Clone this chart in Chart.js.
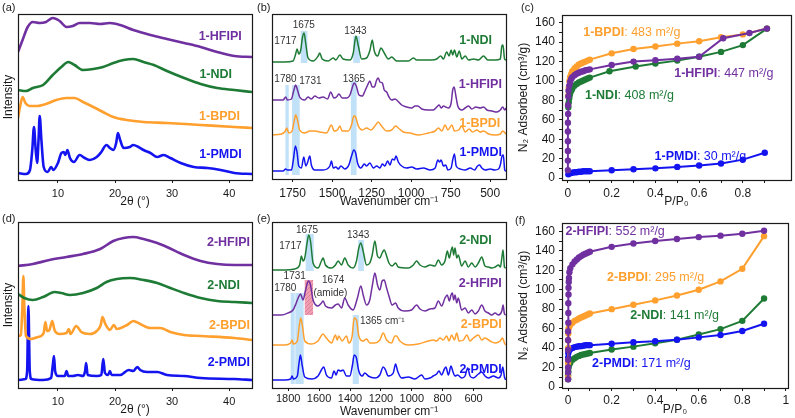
<!DOCTYPE html>
<html><head><meta charset="utf-8">
<script src="https://cdn.jsdelivr.net/npm/chart.js@4.4.1/dist/chart.umd.min.js"></script>
<style>
html,body{margin:0;padding:0;background:#fff}
#root{position:relative;width:795px;height:418px;overflow:hidden;background:#fff}
canvas{position:absolute}
.pl{position:absolute;font:11px "Liberation Sans",Arial,sans-serif;color:#222;line-height:11px;white-space:nowrap}
</style></head><body>
<div id="root">
<canvas id="cA" width="265" height="208" style="left:0;top:0"></canvas>
<canvas id="cB" width="250" height="208" style="left:265px;top:0"></canvas>
<canvas id="cC" width="280" height="208" style="left:515px;top:0"></canvas>
<canvas id="cD" width="265" height="210" style="left:0;top:208px"></canvas>
<canvas id="cE" width="250" height="210" style="left:265px;top:208px"></canvas>
<canvas id="cF" width="280" height="210" style="left:515px;top:208px"></canvas>
<div class="pl" style="left:2px;top:2px">(a)</div>
<div class="pl" style="left:257px;top:2px">(b)</div>
<div class="pl" style="left:521px;top:2px">(c)</div>
<div class="pl" style="left:2px;top:213px">(d)</div>
<div class="pl" style="left:257px;top:213px">(e)</div>
<div class="pl" style="left:515px;top:215px">(f)</div>
</div>
<script>
// ---------------- DATA ----------------
// (a) PXRD, 2theta (deg) vs offset intensity
const a_HFIPI=[[3,128],[3.8,140],[4.7,153],[5.6,158],[6.8,157],[7.9,158],[9.1,162],[10.3,159],[11.5,153],[12.6,154],[13.8,157],[15.6,157],[17.4,156],[19.1,157],[20.9,155],[23.2,150],[26.2,145],[29.1,141],[32.1,137],[35,133],[37.9,128],[40.9,124],[44,123]];
const a_NDI=[[3,90],[4.4,89],[5.6,92],[7.4,95],[9.1,105],[10.6,113],[11.8,118],[12.9,115],[14.4,110],[16.2,111],[17.9,113],[19.7,117],[21.5,120],[23.2,121],[25,118],[26.8,115],[29.1,109],[32.1,102],[35,96],[37.9,92],[40.9,90],[44,88]];
const a_BPDI=[[3,62],[3.35,73],[3.8,83],[4.3,77],[5,74],[6.2,74],[7.9,76],[9.7,80],[11.5,82],[12.9,82],[14.4,78],[16.2,73],[17.9,68],[19.7,63],[22,60],[25,58],[29.1,57],[35,55],[40.9,53],[44,52]];
const a_PMDI=[[3,7],[4.4,6],[5.1,10],[5.5,30],[5.8,53],[6.1,30],[6.35,17],[6.6,40],[6.8,64],[7.1,40],[7.5,13],[8.2,8],[8.8,13],[9.2,10],[10,17],[10.6,27],[11,28],[11.3,25],[11.65,30],[12.1,22],[12.8,18],[13.8,25],[14.7,22],[15.6,20],[16.8,23],[17.6,28],[18.5,35],[19.1,32],[19.7,30],[20.2,37],[20.5,47],[20.9,40],[21.5,32],[22.6,33],[23.2,35],[24.1,33],[25,30],[26.2,27],[27.4,23],[28.5,25],[29.7,22],[31.5,17],[33.8,13],[36.2,12],[38.5,10],[40.9,7],[44,6]];
// (d) PXRD
const d_HFIPI=[[3,122],[5.6,124],[8.5,128],[11.5,131],[14.4,134],[17.4,139],[19.7,147],[21.5,150],[23.2,151],[25,149],[27.4,145],[29.1,141],[32.1,133],[35,127],[37.9,124],[40.9,123],[44,123]];
const d_NDI=[[3,94],[4.1,90],[5.6,88],[7.4,91],[9.4,96],[10.6,95],[12.1,93],[14.4,95],[16.8,100],[18.5,106],[20.3,109],[22.6,110],[25,108],[27.4,105],[29.7,100],[32.1,95],[35,90],[37.9,87],[40.9,86],[44,85]];
const d_BPDI=[[3,52],[3.5,53],[3.76,80],[3.94,112],[4.12,80],[4.4,52],[5.3,49],[6.5,51],[7.5,55],[7.8,66],[8.1,57],[8.5,58],[9,67],[9.4,58],[10.3,54],[11.5,55],[11.9,59],[12.2,54],[13.2,62],[14.1,56],[15.6,54],[16.8,57],[17.5,63],[17.8,71],[18.3,64],[19.1,58],[19.8,63],[20.3,59],[22.1,63],[23.2,67],[24.4,64],[26.2,60],[27.9,60],[29.7,56],[32.1,53],[35,52],[40.9,50],[44,48]];
const d_PMDI=[[3,8],[4.3,9],[4.6,17],[4.82,82],[5.06,17],[5.35,9],[7.35,8],[8.8,10],[9.1,23],[9.3,32],[9.5,17],[10,12],[11.2,12],[11.5,17],[11.8,12],[12.6,12],[13.5,13],[14.4,12],[14.76,17],[14.94,25],[15.2,13],[16.8,12],[17.6,13],[17.94,29],[18.24,15],[18.8,13],[19.1,17],[19.4,13],[20.9,13],[22.4,18],[23.2,17],[23.9,21],[24.4,18],[25.6,16],[27.4,16],[29.1,13],[32.1,12],[35,10],[40.9,9],[44,8]];
// (b) FTIR, wavenumber (cm-1) vs offset transmittance
const b_NDI=[[1880,117],[1800,117],[1747,118],[1732,124],[1721,130],[1711,125],[1698,129],[1688,141],[1677,146],[1667,136],[1652,121],[1620,118],[1588,123],[1578,126],[1563,120],[1525,118],[1493,121],[1476,119],[1451,124],[1430,120],[1387,119],[1366,126],[1349,143],[1334,133],[1313,120],[1282,121],[1260,129],[1246,139],[1233,128],[1212,123],[1191,131],[1170,126],[1144,120],[1123,122],[1092,118],[1017,118],[986,121],[965,119],[912,119],[870,119],[838,120],[813,123],[796,120],[775,127],[760,123],[747,129],[737,124],[726,129],[711,122],[696,128],[679,120],[658,123],[637,119],[605,120],[574,119],[542,123],[515,119],[468,119],[436,120],[426,133],[419,134],[409,120],[400,119]];
const b_HFIPI=[[1880,79],[1810,79],[1793,82],[1783,79],[1757,80],[1743,88],[1730,94],[1719,89],[1705,82],[1673,79],[1652,82],[1631,80],[1609,83],[1584,81],[1557,82],[1529,80],[1508,87],[1489,81],[1472,82],[1457,85],[1436,81],[1409,81],[1387,84],[1373,91],[1360,96],[1347,93],[1330,84],[1309,83],[1292,88],[1275,94],[1261,98],[1246,92],[1233,92],[1218,99],[1208,101],[1197,97],[1182,96],[1170,89],[1155,87],[1140,82],[1123,79],[1102,80],[1085,78],[1060,74],[1028,72],[996,71],[975,73],[958,73],[933,70],[891,69],[859,69],[838,72],[823,74],[810,71],[795,73],[781,72],[764,71],[747,76],[737,89],[728,92],[717,83],[705,73],[679,69],[658,71],[637,73],[616,70],[591,72],[563,71],[542,72],[521,69],[489,68],[457,67],[436,69],[421,72],[408,69],[400,71]];
const b_BPDI=[[1880,44],[1821,45],[1795,48],[1787,51],[1774,46],[1753,48],[1740,58],[1730,64],[1719,59],[1705,49],[1673,46],[1641,48],[1609,48],[1578,47],[1535,46],[1504,54],[1487,48],[1466,49],[1451,53],[1436,48],[1398,48],[1377,54],[1362,63],[1351,62],[1334,53],[1309,49],[1282,51],[1254,49],[1229,53],[1208,57],[1187,53],[1155,48],[1123,49],[1098,53],[1081,51],[1049,47],[1007,46],[954,44],[891,46],[848,48],[827,51],[806,48],[785,54],[768,49],[742,54],[726,48],[700,49],[679,53],[658,47],[633,50],[612,47],[584,49],[563,47],[542,48],[510,45],[468,44],[436,45],[421,48],[400,45]];
const b_PMDI=[[1880,8],[1810,8],[1793,10],[1783,9],[1757,9],[1745,19],[1732,33],[1721,26],[1711,13],[1694,11],[1679,22],[1666,13],[1656,16],[1641,23],[1631,14],[1609,9],[1557,9],[1514,13],[1504,18],[1493,11],[1476,12],[1461,10],[1444,13],[1419,10],[1394,14],[1377,23],[1362,29],[1351,26],[1339,16],[1318,11],[1296,15],[1282,13],[1261,16],[1239,11],[1218,13],[1197,11],[1182,15],[1166,13],[1149,18],[1134,14],[1119,20],[1106,19],[1096,23],[1081,17],[1060,13],[1028,11],[996,12],[965,10],[922,11],[880,9],[848,11],[831,19],[821,17],[810,19],[796,13],[781,14],[768,9],[747,11],[737,19],[726,25],[715,13],[690,10],[658,9],[626,11],[599,9],[580,13],[567,14],[553,11],[531,9],[500,10],[472,9],[447,10],[436,14],[425,23],[417,24],[408,9],[400,8]];
// (e) FTIR
const e_NDI=[[1905,118],[1823,118],[1758,119],[1726,123],[1715,132],[1704,127],[1693,130],[1678,145],[1667,153],[1656,147],[1639,125],[1607,120],[1585,127],[1574,130],[1559,123],[1520,120],[1494,123],[1477,127],[1455,123],[1434,130],[1412,123],[1380,120],[1358,127],[1343,140],[1330,145],[1315,137],[1293,123],[1272,125],[1256,133],[1239,147],[1222,132],[1207,130],[1192,135],[1179,138],[1163,132],[1148,125],[1127,122],[1105,125],[1088,121],[1023,120],[990,123],[969,127],[947,123],[915,121],[882,123],[850,122],[828,128],[807,123],[785,127],[770,137],[757,130],[746,137],[737,141],[729,133],[720,140],[709,130],[699,133],[677,122],[655,127],[634,121],[612,125],[590,121],[569,125],[547,131],[526,122],[504,121],[482,120],[461,121],[439,123],[426,121],[417,130],[409,138],[400,121],[392,120]];
const e_HFIPI=[[1905,73],[1845,73],[1802,75],[1769,78],[1748,85],[1733,91],[1720,94],[1704,88],[1689,97],[1676,105],[1667,107],[1656,103],[1639,88],[1607,82],[1585,85],[1574,87],[1559,82],[1520,80],[1494,83],[1477,84],[1455,80],[1434,90],[1412,83],[1380,78],[1352,90],[1330,102],[1313,92],[1293,83],[1272,88],[1256,102],[1239,115],[1222,103],[1207,98],[1192,107],[1179,108],[1163,100],[1148,92],[1127,83],[1105,85],[1088,80],[1045,77],[1001,78],[969,83],[947,79],[915,77],[882,79],[850,80],[828,87],[807,82],[785,90],[770,93],[757,87],[746,93],[737,95],[729,88],[720,93],[709,85],[699,90],[677,78],[655,80],[634,75],[612,78],[590,74],[569,77],[547,83],[526,77],[504,75],[482,73],[461,75],[439,73],[417,77],[409,83],[400,74],[392,73]];
const e_BPDI=[[1905,43],[1823,43],[1784,45],[1775,48],[1767,44],[1741,47],[1730,60],[1719,70],[1708,62],[1693,47],[1650,44],[1607,47],[1574,54],[1553,50],[1520,45],[1494,53],[1483,48],[1473,52],[1451,47],[1423,52],[1408,45],[1386,52],[1373,70],[1358,68],[1343,52],[1315,47],[1293,49],[1272,45],[1239,45],[1207,48],[1185,55],[1163,48],[1131,45],[1109,52],[1099,52],[1077,47],[1023,43],[958,44],[893,47],[861,48],[839,47],[818,50],[796,48],[774,52],[759,47],[742,53],[724,48],[709,55],[694,47],[666,48],[644,53],[623,47],[601,50],[569,53],[547,48],[526,50],[493,47],[461,45],[428,47],[413,50],[400,45],[392,43]];
const e_PMDI=[[1905,8],[1823,8],[1784,9],[1775,12],[1767,9],[1741,12],[1730,25],[1721,33],[1710,23],[1693,11],[1650,9],[1607,12],[1585,18],[1570,21],[1553,13],[1520,10],[1503,17],[1490,13],[1477,18],[1460,17],[1445,18],[1423,12],[1401,12],[1384,23],[1373,33],[1360,31],[1343,17],[1321,12],[1304,15],[1282,12],[1239,10],[1207,13],[1185,21],[1170,18],[1153,12],[1120,15],[1105,24],[1092,17],[1066,10],[1023,11],[980,9],[936,13],[915,9],[882,10],[861,12],[839,14],[824,17],[807,13],[789,19],[779,21],[763,13],[746,22],[735,17],[720,12],[703,13],[677,10],[655,12],[638,20],[623,12],[601,10],[569,14],[547,16],[526,12],[504,10],[472,12],[439,10],[422,13],[411,21],[400,11],[392,8]];
// (c) N2 isotherms, P/P0 vs cm3/g
const c_HFIPI=[[0,8],[0,18],[0,28],[0,38],[0,48],[0,57],[0.001,66],[0.001,75],[0.002,84],[0.003,90],[0.006,95],[0.01,99],[0.015,102],[0.02,104],[0.03,106],[0.04,107.5],[0.05,108.5],[0.06,109.5],[0.07,110],[0.08,111],[0.09,111.5],[0.1,112],[0.2,116.5],[0.3,120],[0.4,121.5],[0.5,123],[0.6,125],[0.71,144],[0.83,149.5],[0.91,154]];
const c_BPDI=[[0.001,75],[0.002,85],[0.004,93],[0.007,100],[0.01,104],[0.015,107],[0.02,110],[0.03,113],[0.04,115],[0.05,117],[0.06,118],[0.07,119],[0.08,120],[0.09,121],[0.1,122],[0.2,128.5],[0.3,133],[0.4,135.5],[0.5,138.5],[0.6,141],[0.7,145],[0.8,148],[0.91,154]];
const c_NDI=[[0.002,73],[0.004,78],[0.006,82],[0.008,85],[0.01,87],[0.015,90],[0.02,92],[0.03,95],[0.04,97],[0.05,98.5],[0.06,99.5],[0.07,100.5],[0.08,101.5],[0.09,102.5],[0.1,103.5],[0.19,110],[0.31,115],[0.4,118],[0.5,121],[0.6,125],[0.7,130],[0.8,137],[0.91,154]];
const c_PMDI=[[0.002,4],[0.01,5],[0.02,5.5],[0.03,6],[0.04,6],[0.05,6.5],[0.06,6.5],[0.07,7],[0.08,7],[0.09,7],[0.1,7],[0.2,8],[0.3,9],[0.4,10],[0.5,11.5],[0.6,13],[0.7,15],[0.8,19],[0.9,26]];
// (f) N2 isotherms
const f_HFIPI=[[0,8],[0,15],[0,20],[0,28],[0,38],[0,48],[0,57],[0.001,66],[0.001,76],[0.001,86],[0.002,95],[0.002,102],[0.003,108],[0.004,112],[0.006,118],[0.01,122],[0.02,126],[0.03,129],[0.04,131],[0.05,133],[0.06,134.5],[0.07,136],[0.08,137],[0.09,138],[0.1,139],[0.2,144],[0.3,147.5],[0.4,150],[0.5,152],[0.6,154],[0.7,155.5],[0.8,157.5],[0.9,160.5]];
const f_BPDI=[[0,10],[0,25],[0,40],[0,48],[0.001,55],[0.002,60],[0.005,62],[0.01,64],[0.02,66],[0.03,68],[0.04,69],[0.05,70.5],[0.06,71.5],[0.07,72.5],[0.08,73.5],[0.09,74.5],[0.1,75.5],[0.2,80],[0.3,84.5],[0.4,89],[0.5,94],[0.6,100],[0.7,108.5],[0.8,121.5],[0.9,155]];
const f_NDI=[[0,8],[0,12],[0.001,16],[0.002,20],[0.005,23],[0.01,25],[0.02,28],[0.03,29.5],[0.04,31],[0.05,32],[0.06,33],[0.07,33.5],[0.08,34],[0.09,34.5],[0.1,35],[0.2,38.5],[0.3,41.5],[0.4,45],[0.5,48.5],[0.6,54],[0.7,59.5],[0.8,68],[0.9,91]];
const f_PMDI=[[0,30],[0.001,35],[0.002,37],[0.005,38],[0.01,39],[0.02,40],[0.03,41],[0.04,41.5],[0.05,42],[0.06,42],[0.07,42.5],[0.08,43],[0.09,43],[0.1,43],[0.2,44.5],[0.3,46],[0.4,47],[0.5,48.5],[0.6,51],[0.7,53.5],[0.8,57.5],[0.9,65]];
// tick values
const xrdTicks=[10,20,30,40];
const irTicksB=[1750,1500,1250,1000,750,500];
const irTicksE=[1800,1600,1400,1200,1000,800,600];
const isoXTicksC=[0,0.1,0.2,0.3,0.4,0.5,0.6,0.7,0.8,0.9];
const isoXTicksF=[0,0.1,0.2,0.3,0.4,0.5,0.6,0.7,0.8,0.9,1];
const isoXLabels=[0,0.2,0.4,0.6,0.8,1];
const isoXLabelsC=[0,0.2,0.4,0.6,0.8];
const isoYTicks=[0,10,20,30,40,50,60,70,80,90,100,110,120,130,140,150,160];
const isoYLabels=[0,20,40,60,80,100,120,140,160];

// ---------------- STYLE / DRAW ----------------
Chart.defaults.font.family='"Liberation Sans", Arial, Helvetica, sans-serif';
Chart.defaults.color='#1a1a1a';
const COL={p:'#7030A0',g:'#1E7B35',o:'#FF9F2E',b:'#1414F0'};
const FB='bold 12.5px "Liberation Sans", Arial, sans-serif';
const FN='12.5px "Liberation Sans", Arial, sans-serif';
const FS='10px "Liberation Sans", Arial, sans-serif';
const BAND='rgba(140,200,240,0.55)';

function toXY(a){return a.map(([x,y])=>({x,y}));}
function spec(d,c,w){return {data:toXY(d),borderColor:c,borderWidth:w,pointRadius:0,fill:false,cubicInterpolationMode:'monotone'};}
function iso(d,c){return {data:toXY(d),borderColor:c,backgroundColor:c,borderWidth:2,pointRadius:3.2,pointBorderWidth:0,pointBackgroundColor:c,tension:0,fill:false};}

function hatchPattern(ctx){
  const c=document.createElement('canvas');c.width=4;c.height=4;const g=c.getContext('2d');
  g.fillStyle='rgba(236,150,170,0.9)';g.fillRect(0,0,4,4);
  g.strokeStyle='rgba(215,100,135,0.6)';g.lineWidth=1;g.beginPath();g.moveTo(0,4);g.lineTo(4,0);g.stroke();
  return ctx.createPattern(c,'repeat');
}
function overlay(bands,texts){return {id:'ov',
  beforeDatasetsDraw(ch){
    const {ctx,scales:{x,y}}=ch;ctx.save();
    bands.forEach(b=>{
      const x0=x.getPixelForValue(b.x0),x1=x.getPixelForValue(b.x1),y0=y.getPixelForValue(b.y0),y1=y.getPixelForValue(b.y1);
      ctx.fillStyle=b.hatch?hatchPattern(ctx):BAND;
      ctx.fillRect(Math.min(x0,x1),Math.min(y0,y1),Math.abs(x1-x0),Math.abs(y1-y0));
    });
    ctx.restore();
  },
  afterDatasetsDraw(ch){
    const {ctx,chartArea:a,scales:{x,y}}=ch;ctx.save();
    texts.forEach(t=>{
      const px=x.getPixelForValue(t.x),py=y.getPixelForValue(t.y);
      ctx.textBaseline='middle';ctx.textAlign='left';
      const ws=t.parts.map(p=>{ctx.font=p[1];return ctx.measureText(p[0]).width;});
      const tot=ws.reduce((s,w)=>s+w,0);
      let sx=t.align==='right'?px-tot:t.align==='center'?px-tot/2:px;
      t.parts.forEach((p,i)=>{ctx.font=p[1];ctx.fillStyle=p[2];ctx.fillText(p[0],sx,py);sx+=ws[i];});
    });
    ctx.strokeStyle='#1a1a1a';ctx.lineWidth=1.2;
    ctx.strokeRect(Math.round(a.left)+0.5,Math.round(a.top)+0.5,Math.round(a.right-a.left),Math.round(a.bottom-a.top));
    ctx.restore();
  }
};}
function xs(o){return {type:'linear',min:o.min,max:o.max,reverse:!!o.rev,
  afterBuildTicks:s=>{s.ticks=o.ticks.map(v=>({value:v}));},
  afterFit:s=>{s.height=o.h;},
  ticks:{autoSkip:false,maxRotation:0,minRotation:0,padding:o.pad,font:{size:o.fs},color:'#1a1a1a',callback:v=>o.labels.includes(v)?String(v):''},
  grid:{display:true,drawOnChartArea:false,drawTicks:true,tickLength:o.tl,color:'#1a1a1a'},
  border:{display:false},
  title:{display:true,text:o.title,color:'#1a1a1a',font:{size:12,lineHeight:1},padding:{top:0,bottom:o.tpb}}};}
function ys(o){
  if(o.hidden) return {display:false,min:o.min,max:o.max};
  return {type:'linear',min:o.min,max:o.max,
  afterBuildTicks:s=>{s.ticks=o.ticks.map(v=>({value:v}));},
  afterFit:s=>{s.width=o.w;},
  ticks:{display:o.ticks.length>0,autoSkip:false,padding:4,font:{size:12},color:'#1a1a1a',callback:v=>o.labels.includes(v)?String(v):''},
  grid:{display:o.ticks.length>0,drawOnChartArea:false,drawTicks:true,tickLength:3,color:'#1a1a1a'},
  border:{display:false},
  title:{display:true,text:o.title,color:'#1a1a1a',font:{size:12},padding:{top:1,bottom:0}}};}
function mk(id,o){
  return new Chart(document.getElementById(id),{type:'line',data:{datasets:o.ds},
    options:{responsive:false,animation:false,devicePixelRatio:1,events:[],
      layout:{padding:o.pad},plugins:{legend:{display:false},tooltip:{enabled:false}},
      scales:{x:o.x,y:o.y}},
    plugins:[overlay(o.bands||[],o.texts||[])]});
}
const lab=(x,y,align,t,c)=>({x,y,align,parts:[[t,FB,c]]});
const num=(x,y,t,align)=>({x,y,align:align||'center',parts:[[t,FS,'#333']]});
const iso2=(x,y,n,v,c)=>({x,y,align:'left',parts:[[n,FB,c],[': '+v,FN,c]]});
const XW=2.6;

// (a)
mk('cA',{pad:{left:0,top:14,right:13,bottom:0},
  ds:[spec(a_HFIPI,COL.p,XW),spec(a_NDI,COL.g,XW),spec(a_BPDI,COL.o,XW),spec(a_PMDI,COL.b,XW)],
  x:xs({min:3,max:44,ticks:xrdTicks,labels:xrdTicks,h:28,tl:3,pad:4,fs:11,title:'2θ (°)',tpb:0}),
  y:ys({min:0,max:166,ticks:[],labels:[],w:18,title:'Intensity'}),
  texts:[lab(42.2,143,'right','1-HFIPI',COL.p),lab(40.5,105,'right','1-NDI',COL.g),lab(41.9,63,'right','1-BPDI',COL.o),lab(42.2,25,'right','1-PMDI',COL.b)]});
// (d)
mk('cD',{pad:{left:0,top:14,right:13,bottom:0},
  ds:[spec(d_HFIPI,COL.p,XW),spec(d_NDI,COL.g,XW),spec(d_BPDI,COL.o,XW),spec(d_PMDI,COL.b,XW)],
  x:xs({min:3,max:44,ticks:xrdTicks,labels:xrdTicks,h:30,tl:3,pad:4,fs:11,title:'2θ (°)',tpb:2}),
  y:ys({min:0,max:166,ticks:[],labels:[],w:18,title:'Intensity'}),
  texts:[lab(43.65,145,'right','2-HFIPI',COL.p),lab(41.9,102,'right','2-NDI',COL.g),lab(43.65,62,'right','2-BPDI',COL.o),lab(43.65,25,'right','2-PMDI',COL.b)]});
// (b)
mk('cB',{pad:{left:7,top:14,right:9,bottom:0},
  ds:[spec(b_NDI,COL.g,1.5),spec(b_HFIPI,COL.p,1.5),spec(b_BPDI,COL.o,1.5),spec(b_PMDI,COL.b,1.5)],
  x:xs({min:400,max:1880,rev:true,ticks:irTicksB,labels:irTicksB,h:29,tl:3,pad:4,fs:12,title:'Wavenumber cm⁻¹',tpb:0}),
  y:ys({hidden:true,min:0,max:165}),
  bands:[{x0:1795,x1:1774,y0:4,y1:94},{x0:1753,x1:1705,y0:4,y1:94},{x0:1381,x1:1345,y0:4,y1:98},{x0:1698,x1:1656,y0:116,y1:148},{x0:1366,x1:1324,y0:116,y1:143}],
  texts:[lab(489,138,'right','1-NDI',COL.g),lab(426,94,'right','1-HFIPI',COL.p),lab(436,55,'right','1-BPDI',COL.o),lab(426,26,'right','1-PMDI',COL.b),
    num(1795,138,'1717'),num(1679,154,'1675'),num(1352,148,'1343'),num(1795,100,'1780'),num(1637,98,'1731'),num(1362,100,'1365')]});
// (e)
mk('cE',{pad:{left:7,top:14,right:9,bottom:0},
  ds:[spec(e_NDI,COL.g,1.5),spec(e_HFIPI,COL.p,1.5),spec(e_BPDI,COL.o,1.5),spec(e_PMDI,COL.b,1.5)],
  x:xs({min:390,max:1905,rev:true,ticks:irTicksE,labels:irTicksE,h:30,tl:3,pad:1,fs:11,title:'Wavenumber cm⁻¹',tpb:0}),
  y:ys({hidden:true,min:0,max:166}),
  bands:[{x0:1784,x1:1758,y0:4,y1:95},{x0:1754,x1:1700,y0:4,y1:95},{x0:1693,x1:1639,y0:73,y1:108,hatch:true},{x0:1382,x1:1343,y0:4,y1:73},{x0:1687,x1:1635,y0:117,y1:154},{x0:1347,x1:1310,y0:117,y1:148}],
  texts:[lab(482,147,'right','2-NDI',COL.g),lab(417,104,'right','2-HFIPI',COL.p),lab(417,63,'right','2-BPDI',COL.o),lab(417,18,'right','2-PMDI',COL.b),
    num(1786,142,'1717'),num(1678,158,'1675'),num(1347,153,'1343'),num(1758,112,'1731'),num(1819,100,'1780'),num(1509,108,'1674'),num(1527,95,'(amide)'),
    {x:1336,y:67,align:'left',parts:[['1365 cm⁻¹',FS,'#333']]}]});
// (c)
mk('cC',{pad:{left:0,top:15,right:3,bottom:0},
  ds:[iso(c_HFIPI,COL.p),iso(c_NDI,COL.g),iso(c_BPDI,COL.o),iso(c_PMDI,COL.b)],
  x:xs({min:-0.027,max:1.02,ticks:isoXTicksC,labels:isoXLabelsC,h:28,tl:3,pad:3,fs:12,title:'P/P₀',tpb:0}),
  y:ys({min:-2,max:168,ticks:isoYTicks,labels:isoYLabels,w:47,title:'N₂ Adsorbed (cm³/g)'}),
  texts:[iso2(0.07,150,'1-BPDI','483 m²/g',COL.o),iso2(0.486,108,'1-HFIPI','447 m²/g',COL.p),iso2(0.078,85,'1-NDI','408 m²/g',COL.g),iso2(0.396,22,'1-PMDI','30 m²/g',COL.b)]});
// (f)
mk('cF',{pad:{left:0,top:15,right:7,bottom:0},
  ds:[iso(f_HFIPI,COL.p),iso(f_BPDI,COL.o),iso(f_PMDI,COL.b),iso(f_NDI,COL.g)],
  x:xs({min:-0.028,max:1.01,ticks:isoXTicksF,labels:isoXLabels,h:30,tl:3,pad:2,fs:12,title:'P/P₀',tpb:2}),
  y:ys({min:-1,max:168.5,ticks:isoYTicks,labels:isoYLabels,w:47,title:'N₂ Adsorbed (cm³/g)'}),
  texts:[iso2(-0.012,160,'2-HFIPI','552 m²/g',COL.p),iso2(0.179,112,'2-BPDI','295 m²/g',COL.o),iso2(0.285,73,'2-NDI','141 m²/g',COL.g),iso2(0.11,24,'2-PMDI','171 m²/g',COL.b)]});
</script>
</body></html>
